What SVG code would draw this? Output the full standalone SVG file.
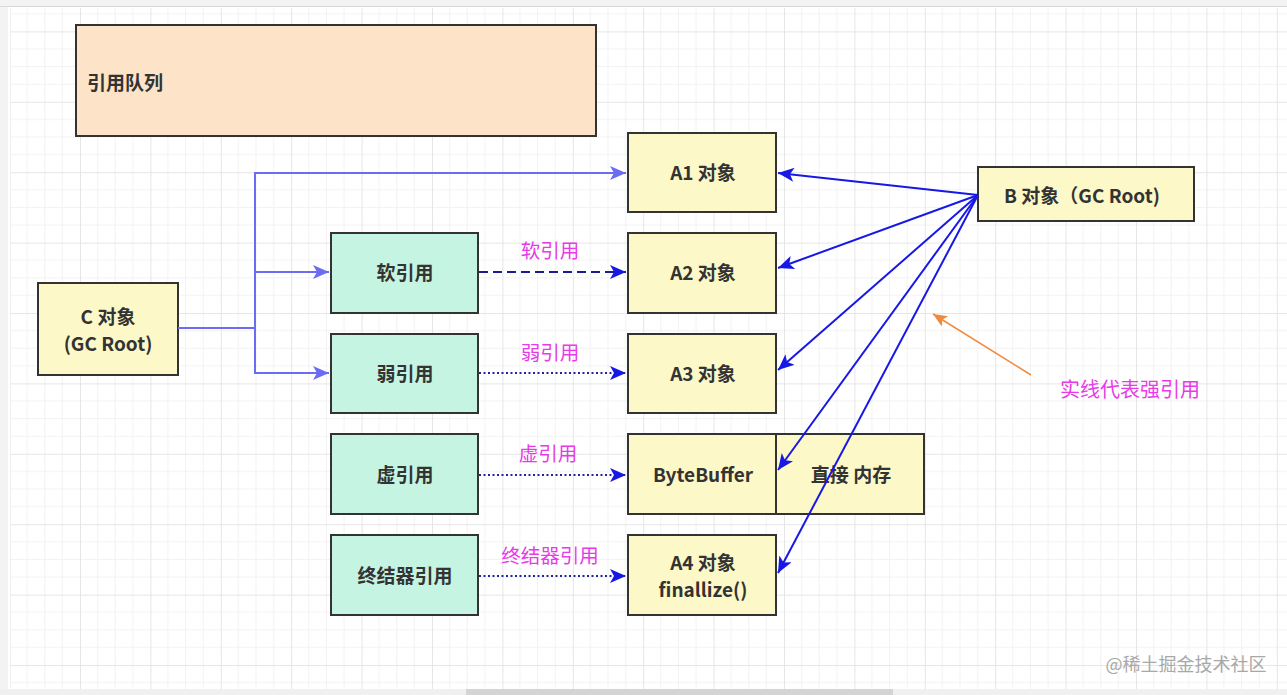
<svg xmlns="http://www.w3.org/2000/svg" width="1287" height="695" viewBox="0 0 1287 695">
<defs>
<pattern id="grid" patternUnits="userSpaceOnUse" x="80" y="31.4" width="70.4" height="70.4">
<path d="M17.6,0V70.4M35.2,0V70.4M52.8,0V70.4M0,17.6H70.4M0,35.2H70.4M0,52.8H70.4" stroke="#f2f2f2" stroke-width="1" fill="none"/>
<path d="M0.5,0V70.4M0,0.5H70.4" stroke="#e6e6e6" stroke-width="1" fill="none"/>
</pattern>
<marker id="mLight" markerUnits="userSpaceOnUse" markerWidth="20" markerHeight="16" refX="16" refY="7" orient="auto">
<path d="M0,0 L16,7 L0,14 L4,7 z" fill="#6c6cf2"/>
</marker>
<marker id="mBlue" markerUnits="userSpaceOnUse" markerWidth="20" markerHeight="16" refX="16" refY="7" orient="auto">
<path d="M0,0 L16,7 L0,14 L4,7 z" fill="#1818e6"/>
</marker>
<marker id="mOrange" markerUnits="userSpaceOnUse" markerWidth="20" markerHeight="16" refX="14" refY="6" orient="auto">
<path d="M0,0 L14,6 L0,12 L3,6 z" fill="#f08a3c"/>
</marker>
</defs>
<style>
.node{stroke:#333;stroke-width:2}
.obj{fill:#fdf8c8}
.ref{fill:#c6f4e2}
.queue{fill:#fde3c8}
.t{font-family:"Noto Sans CJK SC","Microsoft YaHei",sans-serif;font-weight:bold;font-size:19px;fill:#333;text-anchor:middle}
.lbl{font-family:"Noto Sans CJK SC","Microsoft YaHei",sans-serif;font-size:19.5px;fill:#e83ae8;text-anchor:middle}
.c{fill:none;stroke-width:2}
</style>
<rect x="0" y="0" width="1287" height="695" fill="#ffffff"/>
<rect x="10" y="8" width="1277" height="682" fill="url(#grid)"/>
<rect x="0" y="0" width="1287" height="6" fill="#f3f3f3"/>
<line x1="0" y1="6.5" x2="1287" y2="6.5" stroke="#d8d8d8"/>
<rect x="0" y="7" width="8" height="688" fill="#f3f3f3"/>
<rect x="0" y="689" width="1287" height="6" fill="#f0f0f0"/>
<rect x="466" y="689" width="427" height="6" fill="#d4d4d4"/>

<g id="queue"><rect class="node queue" x="76" y="25" width="520" height="111"/><text class="t" x="87" y="90" style="text-anchor:start">引用队列</text></g>

<g id="a1"><rect class="node obj" x="628" y="133" width="148" height="79"/><text class="t" x="703" y="180">A1 对象</text></g>
<g id="a2"><rect class="node obj" x="628" y="233" width="148" height="80"/><text class="t" x="703" y="280">A2 对象</text></g>
<g id="a3"><rect class="node obj" x="628" y="334" width="148" height="79"/><text class="t" x="703" y="381">A3 对象</text></g>
<g id="bytebuffer"><rect class="node obj" x="628" y="434" width="148" height="80"/><text class="t" x="703" y="482">ByteBuffer</text></g>
<g id="direct"><rect class="node obj" x="776" y="434" width="148" height="80"/><text class="t" x="851" y="482">直接 内存</text></g>
<g id="a4"><rect class="node obj" x="628" y="535" width="148" height="80"/><text class="t" x="703" y="570">A4 对象</text><text class="t" x="703" y="597">finallize()</text></g>
<g id="b"><rect class="node obj" x="978" y="167" width="216" height="54"/><text class="t" x="1082" y="203">B 对象（GC Root)</text></g>
<g id="c"><rect class="node obj" x="38" y="283" width="140" height="92"/><text class="t" x="108" y="324">C 对象</text><text class="t" x="108" y="351">(GC Root)</text></g>

<g id="soft"><rect class="node ref" x="331" y="233" width="147" height="80"/><text class="t" x="405" y="280">软引用</text></g>
<g id="weak"><rect class="node ref" x="331" y="334" width="147" height="79"/><text class="t" x="405" y="381">弱引用</text></g>
<g id="phantom"><rect class="node ref" x="331" y="434" width="147" height="80"/><text class="t" x="405" y="482">虚引用</text></g>
<g id="final"><rect class="node ref" x="331" y="535" width="147" height="80"/><text class="t" x="405" y="583">终结器引用</text></g>

<g id="connectors">
<path class="c" stroke="#6c6cf2" d="M178,328 H255 V173 H626" marker-end="url(#mLight)"/>
<path class="c" stroke="#6c6cf2" d="M255,328 V272 H329" marker-end="url(#mLight)"/>
<path class="c" stroke="#6c6cf2" d="M255,328 V373 H329" marker-end="url(#mLight)"/>
<path class="c" stroke="#1c1c8c" stroke-dasharray="9,5" d="M479,272 H626" marker-end="url(#mBlue)"/>
<path class="c" stroke="#22229a" stroke-dasharray="2,2.5" d="M479,373 H626" marker-end="url(#mBlue)"/>
<path class="c" stroke="#22229a" stroke-dasharray="2,2.5" d="M479,475 H626" marker-end="url(#mBlue)"/>
<path class="c" stroke="#22229a" stroke-dasharray="2,2.5" d="M479,576 H626" marker-end="url(#mBlue)"/>
<path class="c" stroke="#1818e6" d="M978,195 L778,173" marker-end="url(#mBlue)"/>
<path class="c" stroke="#1818e6" d="M978,195 L778,268" marker-end="url(#mBlue)"/>
<path class="c" stroke="#1818e6" d="M978,195 L778,370" marker-end="url(#mBlue)"/>
<path class="c" stroke="#1818e6" d="M978,195 L778,470" marker-end="url(#mBlue)"/>
<path class="c" stroke="#1818e6" d="M978,195 L778,573" marker-end="url(#mBlue)"/>
<path fill="none" stroke="#f08a3c" stroke-width="1.5" d="M1031,375 L933,314" marker-end="url(#mOrange)"/>
<text class="lbl" x="550" y="258">软引用</text>
<text class="lbl" x="550" y="360">弱引用</text>
<text class="lbl" x="548" y="461">虚引用</text>
<text class="lbl" x="550" y="563">终结器引用</text>
</g>
<text class="lbl" x="1130" y="397" style="font-size:20px">实线代表强引用</text>
<text x="1186" y="671" style="font-family:'Noto Sans CJK SC',sans-serif;font-size:18px;fill:#a8a8a8;text-anchor:middle">@稀土掘金技术社区</text>
</svg>
